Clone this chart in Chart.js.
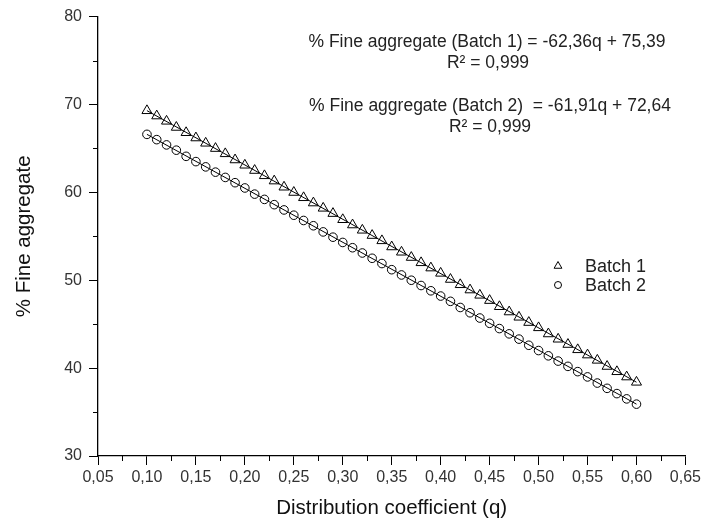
<!DOCTYPE html>
<html>
<head>
<meta charset="utf-8">
<script src="https://cdn.jsdelivr.net/npm/chart.js@4"></script>
<style>
  html, body { margin: 0; padding: 0; background: #fff; }
  #wrap { width: 704px; height: 521px; }
</style>
</head>
<body>
<div id="wrap"><canvas id="chart" width="704" height="521"></canvas></div>
<script>
// distribution coefficient q
const qValues = [0.10, 0.11, 0.12, 0.13, 0.14, 0.15, 0.16, 0.17, 0.18, 0.19,
  0.20, 0.21, 0.22, 0.23, 0.24, 0.25, 0.26, 0.27, 0.28, 0.29,
  0.30, 0.31, 0.32, 0.33, 0.34, 0.35, 0.36, 0.37, 0.38, 0.39,
  0.40, 0.41, 0.42, 0.43, 0.44, 0.45, 0.46, 0.47, 0.48, 0.49,
  0.50, 0.51, 0.52, 0.53, 0.54, 0.55, 0.56, 0.57, 0.58, 0.59, 0.60];

const batch1 = [69.3, 68.7, 68.1, 67.4, 66.8, 66.2, 65.6, 65.0, 64.4, 63.7,
  63.1, 62.5, 61.9, 61.3, 60.6, 60.0, 59.4, 58.8, 58.2, 57.6,
  56.9, 56.3, 55.7, 55.1, 54.5, 53.8, 53.2, 52.6, 52.0, 51.4,
  50.8, 50.1, 49.5, 48.9, 48.3, 47.7, 47.0, 46.4, 45.8, 45.2,
  44.6, 43.9, 43.3, 42.7, 42.1, 41.5, 40.9, 40.2, 39.6, 39.0, 38.4];

const batch2 = [66.6, 66.0, 65.4, 64.8, 64.1, 63.5, 62.9, 62.3, 61.7, 61.1,
  60.5, 59.8, 59.2, 58.6, 58.0, 57.4, 56.8, 56.2, 55.5, 54.9,
  54.3, 53.7, 53.1, 52.5, 51.9, 51.2, 50.6, 50.0, 49.4, 48.8,
  48.2, 47.6, 46.9, 46.3, 45.7, 45.1, 44.5, 43.9, 43.3, 42.6,
  42.0, 41.4, 40.8, 40.2, 39.6, 39.0, 38.3, 37.7, 37.1, 36.5, 35.9];

// fitted straight lines, end points
const fitQ = [0.10, 0.60];
const fit1 = [69.3, 38.4];
const fit2 = [66.6, 35.9];

const eqLines = [
  '% Fine aggregate (Batch 1) = -62,36q + 75,39',
  'R\u00B2 = 0,999',
  '% Fine aggregate (Batch 2)  = -61,91q + 72,64',
  'R\u00B2 = 0,999',
];
const legendLabels = ['Batch 1', 'Batch 2'];

const FONT = '"Liberation Sans", Arial, sans-serif';
const toXY = (xs, ys) => xs.map((x, i) => ({ x, y: ys[i] }));
const fmtComma = (v, d) => v.toFixed(d).replace('.', ',');

// minor ticks between the labelled ones
const minorTicks = {
  id: 'minorTicks',
  afterDraw(chart) {
    const { ctx, scales: { x, y } } = chart;
    ctx.save();
    ctx.strokeStyle = '#000';
    ctx.lineWidth = 1;
    ctx.beginPath();
    for (let v = 0.075; v < 0.65; v += 0.05) {
      const px = Math.round(x.getPixelForValue(v)) + 0.5;
      ctx.moveTo(px, y.bottom);
      ctx.lineTo(px, y.bottom + 5);
    }
    for (let v = 35; v < 80; v += 10) {
      const py = Math.round(y.getPixelForValue(v)) + 0.5;
      ctx.moveTo(x.left, py);
      ctx.lineTo(x.left - 5, py);
    }
    ctx.stroke();
    ctx.restore();
  }
};

// regression equations and legend inside the plot
const annotations = {
  id: 'annotations',
  afterDraw(chart) {
    const { ctx } = chart;
    ctx.save();
    ctx.fillStyle = '#222';
    ctx.font = '17.5px ' + FONT;
    ctx.textAlign = 'center';
    ctx.textBaseline = 'middle';
    const eqPos = [[487, 42], [488, 63], [490, 106], [490, 127]];
    eqLines.forEach((t, i) => ctx.fillText(t, eqPos[i][0], eqPos[i][1]));

    const styles = ['triangle', 'circle'];
    const legY = [266, 285];
    ctx.textAlign = 'left';
    ctx.font = '18px ' + FONT;
    legendLabels.forEach((t, i) => {
      ctx.strokeStyle = '#000';
      ctx.fillStyle = '#fff';
      ctx.lineWidth = 1;
      Chart.helpers.drawPoint(ctx, { pointStyle: styles[i], radius: i === 0 ? 4.5 : 3.5, borderWidth: 1 }, 558, legY[i]);
      ctx.fillStyle = '#222';
      ctx.fillText(t, 585, legY[i] + 1);
    });
    ctx.restore();
  }
};

new Chart(document.getElementById('chart'), {
  type: 'scatter',
  data: {
    datasets: [
      {
        label: 'Fit 1', type: 'line', data: toXY(fitQ, fit1),
        borderColor: '#000', borderWidth: 1, pointRadius: 0, fill: false,
      },
      {
        label: 'Fit 2', type: 'line', data: toXY(fitQ, fit2),
        borderColor: '#000', borderWidth: 1, pointRadius: 0, fill: false,
      },
      {
        label: legendLabels[0], data: toXY(qValues, batch1),
        pointStyle: 'triangle', pointRadius: 5.8, borderColor: '#000', borderWidth: 1,
        backgroundColor: 'rgba(255,255,255,0)',
      },
      {
        label: legendLabels[1], data: toXY(qValues, batch2),
        pointStyle: 'circle', pointRadius: 4.3, borderColor: '#000', borderWidth: 1,
        backgroundColor: 'rgba(255,255,255,0)',
      },
    ],
  },
  options: {
    responsive: false,
    animation: false,
    layout: { padding: { top: 16, right: 15, left: 0, bottom: 0 } },
    plugins: { legend: { display: false }, tooltip: { enabled: false } },
    scales: {
      x: {
        type: 'linear', min: 0.05, max: 0.65,
        afterFit(s) { s.height = 65; },
        ticks: {
          stepSize: 0.05, color: '#333', padding: 3,
          font: { family: FONT, size: 16 },
          callback: v => fmtComma(v, 2),
        },
        grid: { drawOnChartArea: false, color: '#000', tickLength: 9 },
        border: { color: '#000', width: 1.3 },
        title: {
          display: true, text: 'Distribution coefficient (q)', color: '#111',
          font: { family: FONT, size: 20.5 }, padding: { top: 4, bottom: 0 },
        },
      },
      y: {
        min: 30, max: 80,
        afterFit(s) { s.width = 98; },
        ticks: {
          stepSize: 10, color: '#333', padding: 7,
          font: { family: FONT, size: 16 },
        },
        grid: { drawOnChartArea: false, color: '#000', tickLength: 9 },
        border: { color: '#000', width: 1.3 },
        title: {
          display: true, text: '% Fine aggregate', color: '#111',
          font: { family: FONT, size: 20.5 }, padding: { top: 12, bottom: 0 },
        },
      },
    },
  },
  plugins: [minorTicks, annotations],
});
</script>
</body>
</html>
